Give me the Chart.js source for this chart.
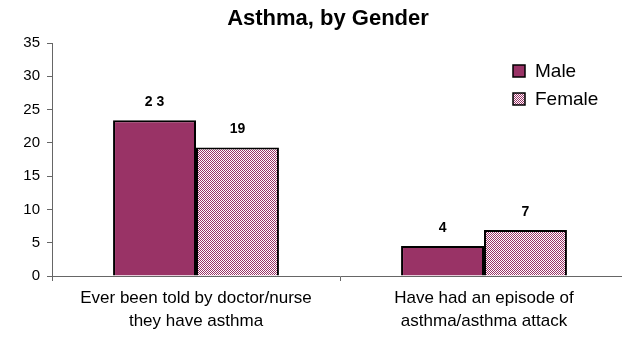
<!DOCTYPE html>
<html>
<head>
<meta charset="utf-8">
<script src="https://cdn.jsdelivr.net/npm/chart.js@4"></script>
<style>
  html, body { margin: 0; padding: 0; background: #fff; overflow: hidden; }
  #wrap { width: 622px; height: 337px; overflow: hidden; }
</style>
</head>
<body>
<div id="wrap"><canvas id="asma" width="628" height="337"></canvas></div>
<script>
// datos
const categorias = [
  ['Ever been told by doctor/nurse', 'they have asthma'],
  ['Have had an episode of', 'asthma/asthma attack']
];
const hombres = [23.4, 4.5];
const mujeres = [19.3, 6.9];
const etiquetasHombres = ['2 3', '4'];
const etiquetasMujeres = ['19', '7'];
const ticksY = [0, 5, 10, 15, 20, 25, 30, 35];

const FUENTE = '"Liberation Sans", Arial, sans-serif';
const VINO = '#993366';

// trama a cuadritos para "Female"
function trama() {
  const c = document.createElement('canvas');
  c.width = 2; c.height = 2;
  const g = c.getContext('2d');
  g.fillStyle = '#ffffff'; g.fillRect(0, 0, 2, 2);
  g.fillStyle = VINO; g.fillRect(0, 0, 1, 1); g.fillRect(1, 1, 1, 1);
  return g.createPattern(c, 'repeat');
}

const ctx = document.getElementById('asma').getContext('2d');
const patron = trama();

// titulo, etiquetas y leyenda a mano
const extras = {
  id: 'extras',
  afterDatasetsDraw(chart) {
    const c = chart.ctx;
    c.save();
    c.fillStyle = '#000';
    c.textAlign = 'center';
    c.textBaseline = 'bottom';
    c.font = 'bold 14px ' + FUENTE;
    const etiquetas = [etiquetasHombres, etiquetasMujeres];
    chart.data.datasets.forEach((ds, i) => {
      chart.getDatasetMeta(i).data.forEach((bar, j) => {
        c.fillText(etiquetas[i][j], bar.x, bar.y - 11);
      });
    });

    // titulo
    c.font = 'bold 22px ' + FUENTE;
    c.textBaseline = 'middle';
    c.fillText('Asthma, by Gender', 328, 19);

    // leyenda
    c.textAlign = 'left';
    c.font = '19px ' + FUENTE;
    chart.data.datasets.forEach((ds, i) => {
      const y = 65 + i * 28;
      c.fillStyle = ds.backgroundColor;
      c.fillRect(513, y, 12, 12);
      c.strokeStyle = '#000';
      c.lineWidth = 1.5;
      c.strokeRect(513, y, 12, 12);
      c.fillStyle = '#000';
      c.fillText(ds.label, 535, y + 7);
    });
    c.restore();
  }
};

new Chart(ctx, {
  type: 'bar',
  data: {
    labels: categorias,
    datasets: [
      { label: 'Male', data: hombres, backgroundColor: VINO, borderColor: '#000', borderWidth: 2 },
      { label: 'Female', data: mujeres, backgroundColor: patron, borderColor: '#000', borderWidth: 2 }
    ]
  },
  options: {
    responsive: false,
    animation: false,
    layout: { padding: { top: 43, left: 0, right: 0, bottom: 0 } },
    categoryPercentage: 0.576,
    barPercentage: 1.0,
    plugins: {
      legend: { display: false },
      title: { display: false },
      tooltip: { enabled: false }
    },
    scales: {
      x: {
        grid: { display: true, drawOnChartArea: false, tickLength: 5, color: '#666' },
        border: { color: '#666', width: 1 },
        ticks: { color: '#000', font: { family: FUENTE, size: 17, lineHeight: 1.36 }, padding: 6, maxRotation: 0 },
        afterFit(scale) { scale.height = 61; }
      },
      y: {
        min: 0,
        max: 35,
        afterBuildTicks(scale) { scale.ticks = ticksY.map(v => ({ value: v })); },
        grid: { display: true, drawOnChartArea: false, tickLength: 5, color: '#666' },
        border: { color: '#666', width: 1 },
        ticks: { color: '#000', font: { family: FUENTE, size: 15 }, padding: 7 },
        afterFit(scale) { scale.width = 52; }
      }
    }
  },
  plugins: [extras]
});
</script>
</body>
</html>
